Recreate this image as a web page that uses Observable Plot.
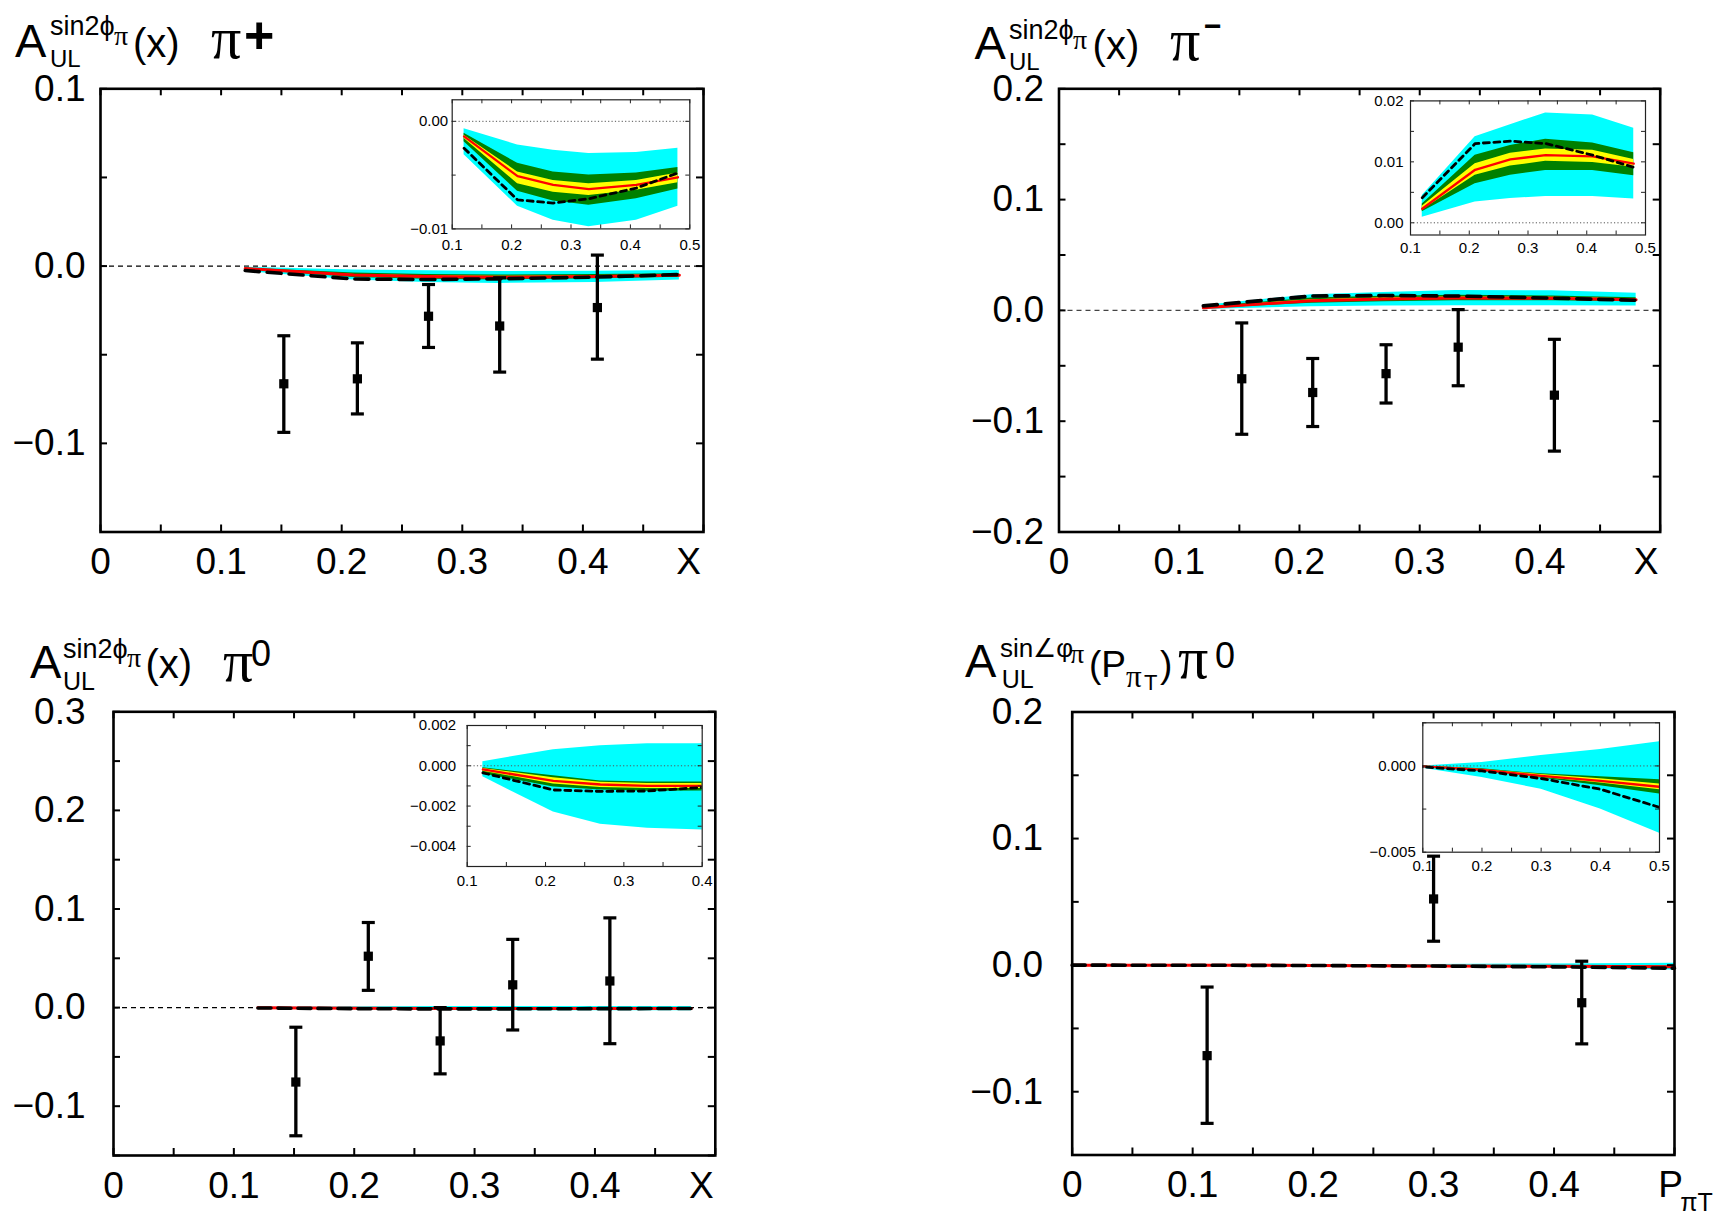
<!DOCTYPE html>
<html><head><meta charset="utf-8">
<script src="https://cdn.jsdelivr.net/npm/d3@7"></script>
<script src="https://cdn.jsdelivr.net/npm/@observablehq/plot@0.6"></script>
<style>
html,body{margin:0;padding:0;background:#fff;}
#root{position:relative;width:1725px;height:1227px;overflow:hidden;background:#fff;}
</style></head><body><div id="root"></div>
<script>
// ---------------- DATA ----------------
// Panel 1: A_UL^{sin2phi}(x), pi+
const p1Knots   = [0.12, 0.21, 0.27, 0.33, 0.41, 0.48];
const p1CyanHi  = [-0.0007, -0.0022, -0.0027, -0.0030, -0.0029, -0.0025];
const p1CyanLo  = [-0.0031, -0.0079, -0.0092, -0.0098, -0.0092, -0.0079];
const p1GreenHi = [-0.0011, -0.0039, -0.0047, -0.0050, -0.0048, -0.0043];
const p1GreenLo = [-0.0019, -0.0065, -0.0074, -0.0078, -0.0072, -0.0063];
const p1YelHi   = [-0.0013, -0.0047, -0.0055, -0.0058, -0.0055, -0.0048];
const p1YelLo   = [-0.0016, -0.0058, -0.0066, -0.0069, -0.0064, -0.0057];
const p1Red     = [-0.0014, -0.0051, -0.0059, -0.0063, -0.0059, -0.0052];
const p1Dashed  = [-0.0025, -0.0073, -0.0076, -0.0072, -0.0062, -0.0048];
const p1PtX  = [0.152, 0.213, 0.272, 0.331, 0.412];
const p1PtY  = [-0.0664, -0.0636, -0.0283, -0.0338, -0.0234];
const p1PtLo = [-0.0938, -0.0834, -0.0459, -0.0598, -0.0525];
const p1PtHi = [-0.0393, -0.0433, -0.0104, -0.0066, 0.0062];

// Panel 2: pi-
const p2Knots   = [0.12, 0.21, 0.27, 0.33, 0.41, 0.48];
const p2CyanHi  = [0.0045, 0.0141, 0.0161, 0.0180, 0.0177, 0.0155];
const p2CyanLo  = [0.0009, 0.0034, 0.0040, 0.0043, 0.0043, 0.0039];
const p2GreenHi = [0.0031, 0.0111, 0.0127, 0.0137, 0.0131, 0.0115];
const p2GreenLo = [0.0018, 0.0064, 0.0078, 0.0086, 0.0086, 0.0077];
const p2YelHi   = [0.0027, 0.0097, 0.0114, 0.0121, 0.0119, 0.0104];
const p2YelLo   = [0.0021, 0.0078, 0.0093, 0.0101, 0.0099, 0.0091];
const p2Red     = [0.0023, 0.0087, 0.0104, 0.0111, 0.0109, 0.0097];
const p2Dashed  = [0.0041, 0.0130, 0.0134, 0.0130, 0.0111, 0.0091];
const p2PtX  = [0.152, 0.211, 0.272, 0.332, 0.412];
const p2PtY  = [-0.0617, -0.0741, -0.0571, -0.0332, -0.0765];
const p2PtLo = [-0.1118, -0.1048, -0.0836, -0.0680, -0.1270];
const p2PtHi = [-0.0113, -0.0434, -0.0310, 0.0007, -0.0261];

// Panel 3: pi0 vs x
const p3Knots   = [0.12, 0.21, 0.27, 0.33, 0.41, 0.48];
const p3CyanHi  = [0.0002, 0.0008, 0.0010, 0.0011, 0.0011, 0.0011];
const p3CyanLo  = [-0.00055, -0.0023, -0.0029, -0.0031, -0.0032, -0.0032];
const p3GreenHi = [-0.0001, -0.0005, -0.00075, -0.0008, -0.0008, -0.0008];
const p3GreenLo = [-0.0004, -0.00105, -0.0012, -0.00127, -0.00125, -0.0012];
const p3YelHi   = [-0.00013, -0.0006, -0.00082, -0.00088, -0.00088, -0.00088];
const p3YelLo   = [-0.00027, -0.0009, -0.00108, -0.00113, -0.00113, -0.0011];
const p3Red     = [-0.00018, -0.00075, -0.00093, -0.0010, -0.0010, -0.0010];
const p3Dashed  = [-0.00035, -0.0012, -0.00127, -0.00125, -0.00105, -0.0009];
const p3PtX  = [0.1515, 0.2117, 0.2714, 0.3317, 0.4124];
const p3PtY  = [-0.0755, 0.0521, -0.0338, 0.0231, 0.0270];
const p3PtLo = [-0.1300, 0.0175, -0.0672, -0.0227, -0.0366];
const p3PtHi = [-0.0199, 0.0863, 0.0000, 0.0692, 0.0910];

// Panel 4: pi0 vs P_piT
const p4Knots   = [0, 0.1, 0.2, 0.3, 0.4, 0.5];
const p4CyanHi  = [0, 0, 0.0002, 0.0006, 0.00095, 0.0014];
const p4CyanLo  = [0, -0.00013, -0.00067, -0.00135, -0.0025, -0.0039];
const p4GreenHi = [0, 0, -0.00017, -0.00046, -0.00063, -0.0008];
const p4GreenLo = [0, -0.00004, -0.0003, -0.0007, -0.00115, -0.00163];
const p4YelHi   = [0, -0.00001, -0.0002, -0.0005, -0.00075, -0.00104];
const p4YelLo   = [0, -0.00003, -0.00027, -0.00066, -0.00099, -0.00138];
const p4Red     = [0, -0.00002, -0.00023, -0.00058, -0.00087, -0.00121];
const p4Dashed  = [0, -0.00006, -0.00029, -0.00073, -0.00135, -0.0024];
const p4PtX  = [0.112, 0.300, 0.423];
const p4PtY  = [-0.0715, 0.0523, -0.0297];
const p4PtLo = [-0.1250, 0.0189, -0.0622];
const p4PtHi = [-0.0173, 0.0861, 0.0031];

// tick labels
const mainXLabels = [0, 0.1, 0.2, 0.3, 0.4];
const p1YLabels = [-0.1, 0, 0.1];
const p2YLabels = [-0.2, -0.1, 0, 0.1, 0.2];
const p3YLabels = [-0.1, 0, 0.1, 0.2, 0.3];
const p4YLabels = [-0.1, 0, 0.1, 0.2];
const insetXLabels = [0.1, 0.2, 0.3, 0.4, 0.5];
const i1YLabels = [-0.01, 0];
const i2YLabels = [0, 0.01, 0.02];
const i3XLabels = [0.1, 0.2, 0.3, 0.4];
const i3YLabels = [-0.004, -0.002, 0, 0.002];
const i4YLabels = [-0.005, 0];

// ---------------- STYLE ----------------
const CYAN = "#00ffff", GREEN = "#008000", YELLOW = "#ffff00", RED = "#ff0000";
const FONT_TICK = '"Liberation Sans", Arial, sans-serif';
const FONT = '"Liberation Sans", Arial, sans-serif';
const SERIF = '"Liberation Serif", "DejaVu Serif", serif';
const root = document.getElementById("root");

function rowsOf(xs, cHi, cLo, gHi, gLo, yHi, yLo, red, dash) {
  return xs.map((x, i) => ({x, cHi: cHi[i], cLo: cLo[i], gHi: gHi[i], gLo: gLo[i], yHi: yHi[i], yLo: yLo[i], red: red[i], dash: dash[i]}));
}
function ptsOf(xs, ys, lo, hi) { return xs.map((x, i) => ({x, y: ys[i], lo: lo[i], hi: hi[i]})); }

function stepRange(a, b, s) {
  const out = [];
  const st = Math.ceil(a / s - 1e-6), en = Math.floor(b / s + 1e-6);
  for (let i = st; i <= en; i++) out.push(+(i * s).toFixed(6));
  return out;
}
function tickRules(xd, yd, xs, ys, len, iw, ih, sw, color) {
  const dx = len * (xd[1] - xd[0]) / iw, dy = len * (yd[1] - yd[0]) / ih;
  const xt = stepRange(xd[0], xd[1], xs), yt = stepRange(yd[0], yd[1], ys);
  const o = {stroke: color, strokeWidth: sw};
  return [
    Plot.ruleX(xt, {x: d => d, y1: yd[0], y2: yd[0] + dy, ...o}),
    Plot.ruleX(xt, {x: d => d, y1: yd[1], y2: yd[1] - dy, ...o}),
    Plot.ruleY(yt, {y: d => d, x1: xd[0], x2: xd[0] + dx, ...o}),
    Plot.ruleY(yt, {y: d => d, x1: xd[1], x2: xd[1] - dx, ...o})
  ];
}
const capSymbol = {draw(context, size) { const r = Math.sqrt(size / Math.PI); context.moveTo(-r, 0); context.lineTo(r, 0); }};

function bandMarks(rows, clip) {
  return [
    Plot.areaY(rows, {x: "x", y1: "cLo", y2: "cHi", fill: CYAN, clip}),
    Plot.areaY(rows, {x: "x", y1: "gLo", y2: "gHi", fill: GREEN, clip}),
    Plot.areaY(rows, {x: "x", y1: "yLo", y2: "yHi", fill: YELLOW, clip}),
  ];
}
function lineMarks(rows, clip, redW, dashW, dash) {
  return [
    Plot.line(rows, {x: "x", y: "red", stroke: RED, strokeWidth: redW, clip}),
    Plot.line(rows, {x: "x", y: "dash", stroke: "black", strokeWidth: dashW, strokeDasharray: dash, clip})
  ];
}

function place(el, left, top) {
  el.style.position = "absolute";
  el.style.left = left + "px";
  el.style.top = top + "px";
  el.style.maxWidth = "none";
  root.appendChild(el);
}

function mainPanel(cfg) {
  const [fL, fR, fT, fB] = cfg.frame;
  const iw = fR - fL, ih = fB - fT;
  const xd = [0, 0.5], yd = cfg.yDomain;
  const fmtX = d => d === 0 ? "0" : d3.format(".1f")(d);
  const svg = Plot.plot({
    width: cfg.w, height: cfg.h,
    marginLeft: fL - cfg.left, marginRight: cfg.left + cfg.w - fR,
    marginTop: fT - cfg.top, marginBottom: cfg.top + cfg.h - fB,
    x: {domain: xd, label: null},
    y: {domain: yd, label: null},
    style: {fontFamily: FONT_TICK, fontSize: "37px", background: "transparent", overflow: "visible", color: "black"},
    marks: [
      Plot.ruleY([0], {stroke: cfg.zeroStroke, strokeWidth: 1.4, strokeDasharray: "5,4"}),
      ...bandMarks(cfg.rows, false),
      ...lineMarks(cfg.rows, false, 3, 3.6, cfg.dash),
      Plot.ruleX(cfg.pts, {x: "x", y1: "lo", y2: "hi", stroke: "black", strokeWidth: 3.3}),
      Plot.dot(cfg.pts, {x: "x", y: "lo", symbol: capSymbol, r: 6.5, stroke: "black", strokeWidth: 3.2, fill: "none"}),
      Plot.dot(cfg.pts, {x: "x", y: "hi", symbol: capSymbol, r: 6.5, stroke: "black", strokeWidth: 3.2, fill: "none"}),
      Plot.dot(cfg.pts, {x: "x", y: "y", symbol: "square", r: 5.2, fill: "black", stroke: "none"}),
      Plot.frame({stroke: "black", strokeWidth: 2.6}),
      ...tickRules(xd, yd, 0.05, 0.05, 7, iw, ih, 2, "black"),
      Plot.axisX({ticks: mainXLabels, tickSize: 0, tickPadding: 16, tickFormat: fmtX, label: null}),
      Plot.axisY({ticks: cfg.yLabels, tickSize: 0, tickPadding: cfg.yPad, tickFormat: d3.format(".1f"), label: null}),
      Plot.text([cfg.xName], {x: 0.5, frameAnchor: "bottom", text: d => d, lineAnchor: "bottom", dy: 42, dx: cfg.xNameDx}),
      ...(cfg.xSub ? [Plot.text([cfg.xSub], {x: 0.5, frameAnchor: "bottom", text: d => d, lineAnchor: "bottom", dy: 56, dx: cfg.xSubDx, fontSize: 25, fontFamily: FONT})] : [])
    ]
  });
  place(svg, cfg.left, cfg.top);
}

function insetPanel(cfg) {
  const [fL, fR, fT, fB] = cfg.frame;
  const iw = fR - fL, ih = fB - fT;
  const xd = cfg.xDomain, yd = cfg.yDomain;
  const svg = Plot.plot({
    width: cfg.w, height: cfg.h,
    marginLeft: fL - cfg.left, marginRight: cfg.left + cfg.w - fR,
    marginTop: fT - cfg.top, marginBottom: cfg.top + cfg.h - fB,
    x: {domain: xd, label: null},
    y: {domain: yd, label: null},
    style: {fontFamily: FONT, fontSize: "15px", background: "transparent", overflow: "visible", color: "black"},
    marks: [
      ...bandMarks(cfg.rows, true),
      Plot.ruleY([0], {stroke: "#555", strokeWidth: 1, strokeDasharray: "1.2,2.2"}),
      ...lineMarks(cfg.rows, true, 2.3, 2.8, "6,4.5"),
      Plot.frame({stroke: "#222", strokeWidth: 1.2}),
      ...tickRules(xd, yd, 0.05, cfg.yStep, 4, iw, ih, 1, "#222"),
      Plot.axisX({ticks: cfg.xLabels, tickSize: 0, tickPadding: cfg.xPad, tickFormat: d3.format(".1f"), label: null}),
      Plot.axisY({ticks: cfg.yLabels, tickSize: 0, tickPadding: cfg.yPad, tickFormat: d3.format(cfg.yFmt), label: null})
    ]
  });
  place(svg, cfg.left, cfg.top);
}

const rows1 = rowsOf(p1Knots, p1CyanHi, p1CyanLo, p1GreenHi, p1GreenLo, p1YelHi, p1YelLo, p1Red, p1Dashed);
const rows2 = rowsOf(p2Knots, p2CyanHi, p2CyanLo, p2GreenHi, p2GreenLo, p2YelHi, p2YelLo, p2Red, p2Dashed);
const rows3 = rowsOf(p3Knots, p3CyanHi, p3CyanLo, p3GreenHi, p3GreenLo, p3YelHi, p3YelLo, p3Red, p3Dashed);
const rows4 = rowsOf(p4Knots, p4CyanHi, p4CyanLo, p4GreenHi, p4GreenLo, p4YelHi, p4YelLo, p4Red, p4Dashed);

mainPanel({left: 0, top: 0, w: 760, h: 610, frame: [100, 703, 88.3, 531.5], yDomain: [-0.15, 0.1], yLabels: p1YLabels, yPad: 15,
  rows: rows1, pts: ptsOf(p1PtX, p1PtY, p1PtLo, p1PtHi), zeroStroke: "black", dash: "14,8", xName: "X", xNameDx: -15});
mainPanel({left: 862, top: 0, w: 863, h: 610, frame: [1058.5, 1659.7, 88.3, 531.5], yDomain: [-0.2, 0.2], yLabels: p2YLabels, yPad: 15,
  rows: rows2, pts: ptsOf(p2PtX, p2PtY, p2PtLo, p2PtHi), zeroStroke: "#444", dash: "14,8", xName: "X", xNameDx: -14});
mainPanel({left: 0, top: 613, w: 862, h: 614, frame: [113, 714.8, 711.3, 1155], yDomain: [-0.15, 0.3], yLabels: p3YLabels, yPad: 28,
  rows: rows3, pts: ptsOf(p3PtX, p3PtY, p3PtLo, p3PtHi), zeroStroke: "black", dash: "13,7", xName: "X", xNameDx: -14});
mainPanel({left: 862, top: 613, w: 863, h: 614, frame: [1071.7, 1674, 711.5, 1154.5], yDomain: [-0.15, 0.2], yLabels: p4YLabels, yPad: 29,
  rows: rows4, pts: ptsOf(p4PtX, p4PtY, p4PtLo, p4PtHi), zeroStroke: "black", dash: "13,7", xName: "P", xNameDx: -4, xSub: "πT", xSubDx: 22});

insetPanel({left: 390, top: 88, w: 320, h: 170, frame: [451.7, 689.3, 99.3, 228.4], xDomain: [0.1, 0.5], yDomain: [-0.01, 0.002],
  rows: rows1, xLabels: insetXLabels, yLabels: i1YLabels, yStep: 0.005, yFmt: ".2f", xPad: 10, yPad: 4});
insetPanel({left: 1350, top: 88, w: 320, h: 175, frame: [1410, 1645, 100.4, 234.5], xDomain: [0.1, 0.5], yDomain: [-0.002, 0.02],
  rows: rows2, xLabels: insetXLabels, yLabels: i2YLabels, yStep: 0.005, yFmt: ".2f", xPad: 7, yPad: 7});
insetPanel({left: 390, top: 712, w: 330, h: 180, frame: [466.7, 701.7, 725, 866], xDomain: [0.1, 0.4], yDomain: [-0.005, 0.002],
  rows: rows3, xLabels: i3XLabels, yLabels: i3YLabels, yStep: 0.001, yFmt: ".3f", xPad: 9, yPad: 11});
insetPanel({left: 1350, top: 710, w: 330, h: 170, frame: [1422.3, 1659, 722.3, 851.7], xDomain: [0.1, 0.5], yDomain: [-0.005, 0.0025],
  rows: rows4, xLabels: insetXLabels, yLabels: i4YLabels, yStep: 0.0025, yFmt: ".3f", xPad: 8, yPad: 7});

// ---------------- TITLES ----------------
const titleParts = [
  // panel 1
  {t: "A", x: 15, y: 56.7, s: 47},
  {t: "sin2ϕ", x: 50, y: 35, s: 27},
  {t: "π", x: 114, y: 45, s: 28, serif: true},
  {t: "UL", x: 50, y: 66.5, s: 24},
  {t: "(x)", x: 133, y: 56.7, s: 40},
  {t: "π", x: 211, y: 58, s: 60, serif: true},
  {t: "+", x: 244, y: 53, s: 52, bold: true},
  // panel 2
  {t: "A", x: 974.5, y: 58.6, s: 47},
  {t: "sin2ϕ", x: 1009, y: 39, s: 27},
  {t: "π", x: 1073, y: 48.8, s: 28, serif: true},
  {t: "UL", x: 1009, y: 69.5, s: 24},
  {t: "(x)", x: 1092.6, y: 58.6, s: 40},
  {t: "π", x: 1170, y: 60, s: 60, serif: true},
  {t: "−", x: 1204, y: 36.3, s: 30, bold: true},
  // panel 3
  {t: "A", x: 30, y: 678, s: 47},
  {t: "sin2ϕ", x: 63, y: 658, s: 27},
  {t: "π", x: 127, y: 667, s: 28, serif: true},
  {t: "UL", x: 63, y: 690, s: 25},
  {t: "(x)", x: 145.5, y: 678, s: 40},
  {t: "π", x: 223, y: 681, s: 60, serif: true},
  {t: "0", x: 251, y: 666, s: 36},
  // panel 4
  {t: "A", x: 965, y: 676.7, s: 47},
  {t: "sin∠φ", x: 1000, y: 656.7, s: 26},
  {t: "π", x: 1070, y: 663, s: 28, serif: true},
  {t: "UL", x: 1001.7, y: 688.3, s: 25},
  {t: "(P", x: 1089, y: 676.7, s: 37},
  {t: "π", x: 1126, y: 687, s: 31, serif: true},
  {t: "T", x: 1144, y: 690, s: 22},
  {t: ")", x: 1160, y: 676.7, s: 37},
  {t: "π", x: 1178, y: 678, s: 60, serif: true},
  {t: "0", x: 1215, y: 668.3, s: 36}
];
const T = d3.create("svg").attr("width", 1725).attr("height", 1227);
T.selectAll("text").data(titleParts).join("text")
  .attr("x", d => d.x).attr("y", d => d.y)
  .attr("font-size", d => d.s)
  .attr("font-family", d => d.serif ? SERIF : FONT)
  .attr("font-weight", d => d.bold ? "bold" : "normal")
  .attr("fill", "black")
  .text(d => d.t);
const tn = T.node();
tn.style.pointerEvents = "none";
place(tn, 0, 0);
</script></body></html>
